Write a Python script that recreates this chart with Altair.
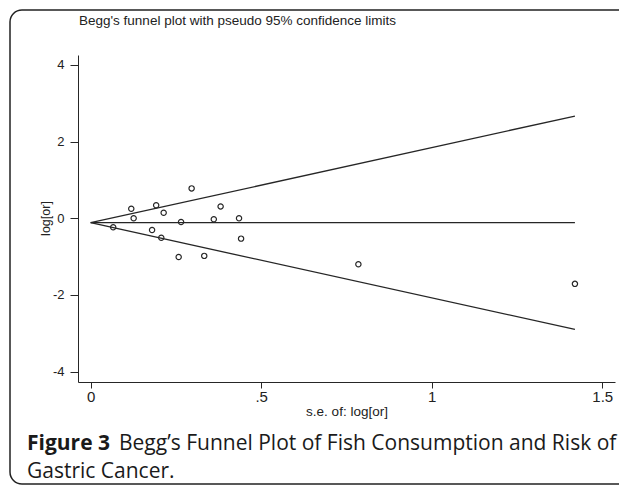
import altair as alt
import pandas as pd

# Study estimates
se = [0.066, 0.119, 0.126, 0.192, 0.214, 0.180, 0.207, 0.258, 0.265, 0.296,
      0.333, 0.361, 0.381, 0.435, 0.441, 0.785, 1.42]
logor = [-0.235, 0.25, 0.0, 0.34, 0.146, -0.305, -0.507, -1.01, -0.097, 0.78,
         -0.98, -0.026, 0.31, 0.0, -0.53, -1.20, -1.71]

# Pseudo 95% confidence limits (end points)
line_se = [0.0, 1.42]
pooled = [-0.115, -0.115]
upper = [-0.115, 2.668]
lower = [-0.115, -2.898]

x_ticks = [0, 0.5, 1, 1.5]
y_ticks = [-4, -2, 0, 2, 4]

cap_label = "Figure 3"
cap_line1 = "Begg\u2019s Funnel Plot of Fish Consumption and Risk of"
cap_line2 = "Gastric Cancer."
plot_title = "Begg's funnel plot with pseudo 95% confidence limits"

pts = pd.DataFrame({"se": se, "logor": logor})
lines = pd.DataFrame({
    "se": line_se * 3,
    "val": pooled + upper + lower,
    "grp": ["pooled"] * 2 + ["upper"] * 2 + ["lower"] * 2,
})

ink = "#262626"
axis_font = "Liberation Sans"

xscale = alt.Scale(domain=[-0.0372, 1.5375], nice=False, zero=False)
yscale = alt.Scale(domain=[-4.27, 4.26], nice=False, zero=False)

xaxis = alt.Axis(values=x_ticks, title="s.e. of: log[or]", grid=False,
                 labelExpr="datum.value == 0.5 ? '.5' : datum.value + ''",
                 tickSize=6, labelPadding=1, labelFont=axis_font,
                 labelFontSize=15, titleFont=axis_font, titleFontSize=13.5,
                 titleFontWeight="normal", titleY=29, titleBaseline="middle")
yaxis = alt.Axis(values=y_ticks, title="log[or]", grid=False,
                 labelExpr="datum.value + ''",
                 tickSize=8, labelPadding=6, labelFont=axis_font, labelFontSize=13,
                 titleFont=axis_font, titleFontSize=12.5, titleFontWeight="normal",
                 titleX=-33, titleY=163, titleAngle=-90, titleAlign="center",
                 titleBaseline="middle")

line_layer = alt.Chart(lines).mark_line(color=ink, strokeWidth=1.3).encode(
    x=alt.X("se:Q", scale=xscale, axis=xaxis),
    y=alt.Y("val:Q", scale=yscale, axis=yaxis),
    detail="grp:N",
)

point_layer = alt.Chart(pts).mark_point(shape="circle", filled=False, color=ink,
                                        size=28, strokeWidth=1.2, opacity=1).encode(
    x=alt.X("se:Q", scale=xscale),
    y=alt.Y("logor:Q", scale=yscale),
)

one = alt.Data(values=[{}])

border = alt.Chart(one).mark_rect(filled=False, stroke="#222222", strokeWidth=1.5,
                                  cornerRadius=12).encode(
    x=alt.value(-68), x2=alt.value(575), y=alt.value(-45), y2=alt.value(429))

title = alt.Chart(one).mark_text(text=plot_title,
                                 font=axis_font, fontSize=13.5, color="#222222",
                                 align="left", baseline="middle").encode(
    x=alt.value(1), y=alt.value(-34))

cap_font = "Open Sans"
cap_color = "#1a1a1a"
cap_size = 21
cap_a = alt.Chart(one).mark_text(text=cap_label, font=cap_font, fontSize=cap_size,
                                 fontWeight="bold", color=cap_color,
                                 align="left", baseline="middle").encode(
    x=alt.value(-51), y=alt.value(389))
cap_b = alt.Chart(one).mark_text(text=cap_line1, font=cap_font, fontSize=cap_size,
                                 color=cap_color, align="left", baseline="middle").encode(
    x=alt.value(41), y=alt.value(389))
cap_c = alt.Chart(one).mark_text(text=cap_line2, font=cap_font, fontSize=cap_size,
                                 color=cap_color, align="left", baseline="middle").encode(
    x=alt.value(-51), y=alt.value(417))

chart = alt.layer(border, line_layer, point_layer, title, cap_a, cap_b, cap_c).properties(
    width=537, height=327,
    autosize=alt.AutoSizeParams(type="none"),
    padding={"left": 70, "top": 47, "right": 4, "bottom": 106},
).configure_view(stroke=None).configure_axis(
    domainColor=ink, tickColor=ink, labelColor="#222222", titleColor="#222222",
    domainWidth=1, tickWidth=1,
)

chart.save("out.html", embed_options={"renderer": "svg", "actions": False})
